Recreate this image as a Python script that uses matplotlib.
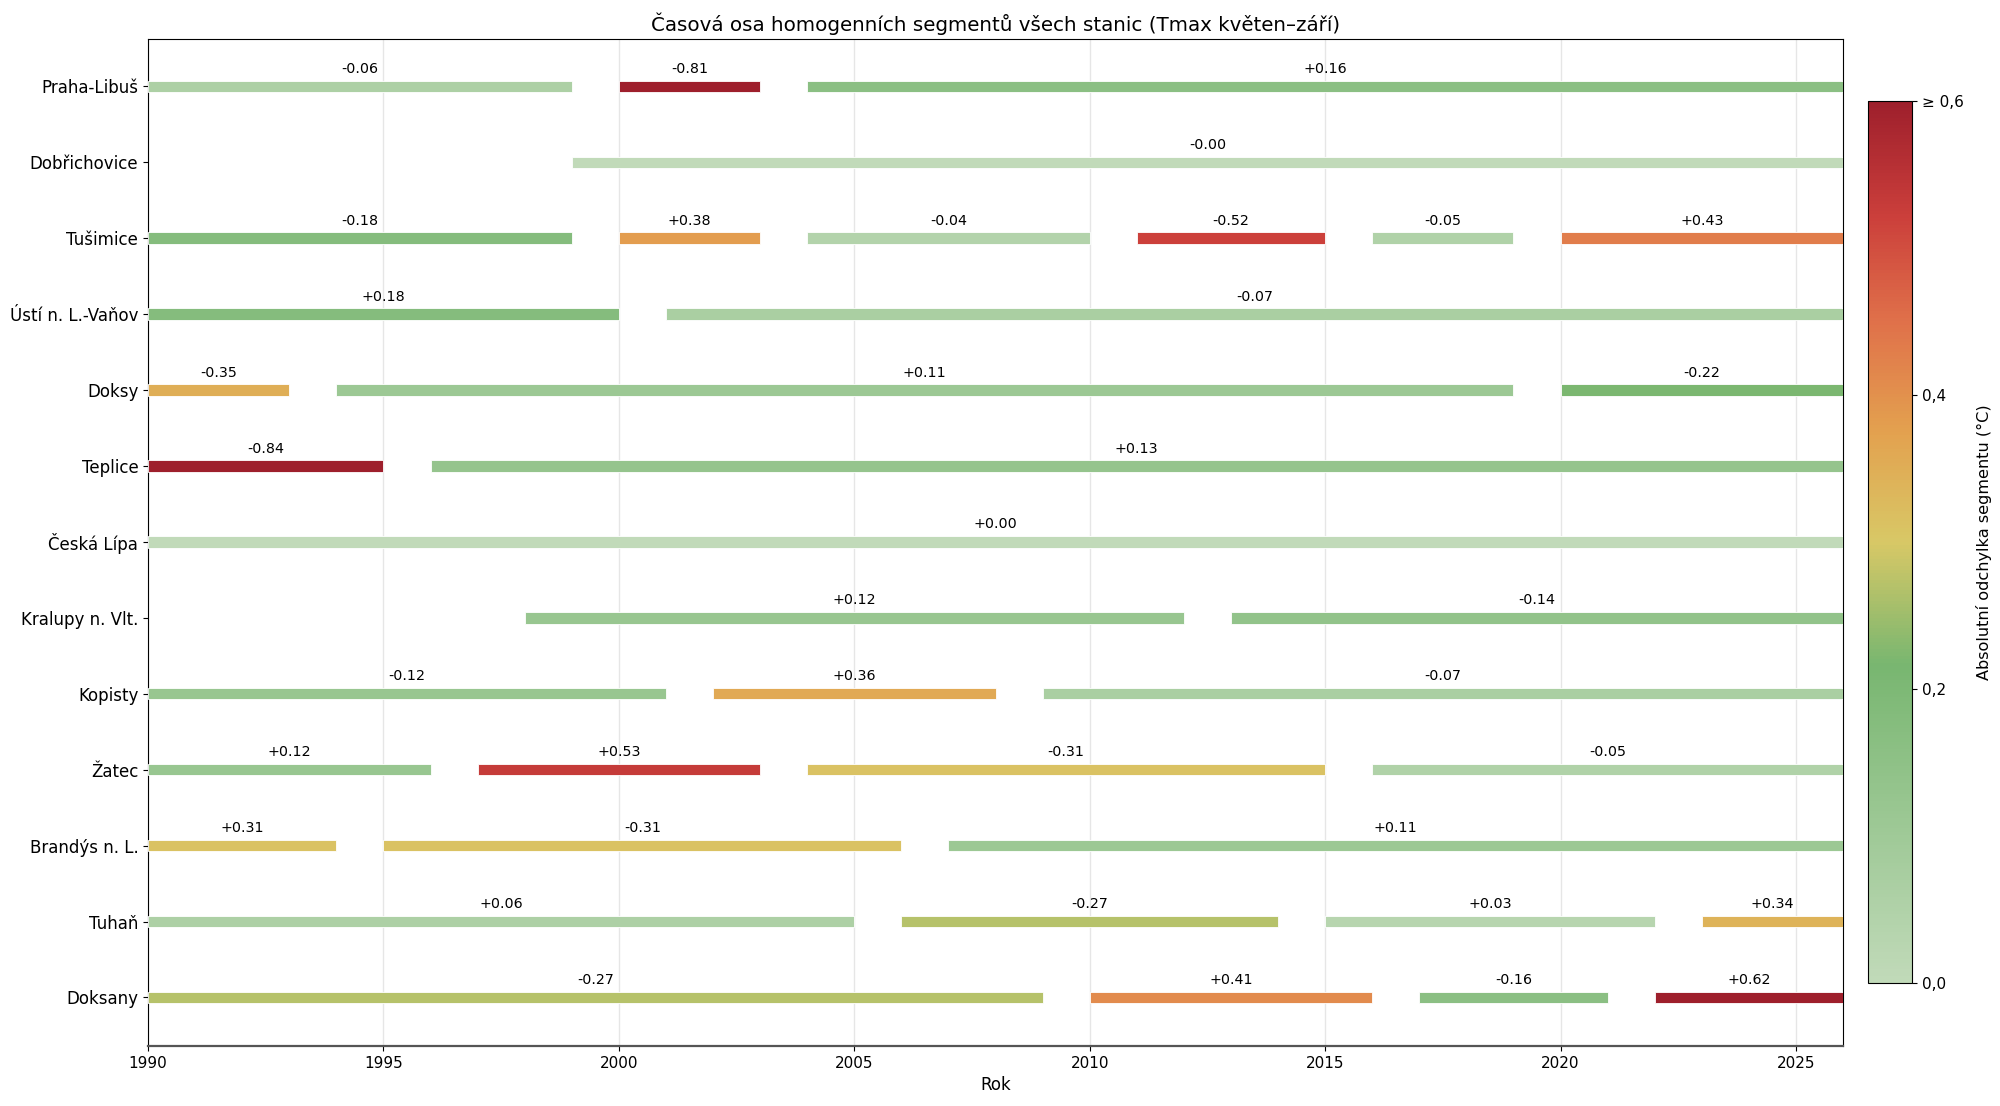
import matplotlib
matplotlib.use("Agg")
import matplotlib.pyplot as plt
import numpy as np
from matplotlib.colors import LinearSegmentedColormap, Normalize
from matplotlib.cm import ScalarMappable

# stations top to bottom
stations = ["Praha-Libuš", "Dobřichovice", "Tušimice", "Ústí n. L.-Vaňov", "Doksy",
            "Teplice", "Česká Lípa", "Kralupy n. Vlt.", "Kopisty", "Žatec",
            "Brandýs n. L.", "Tuhaň", "Doksany"]

# segment start / end years and mean deviation per station
seg_start = [
    [1990, 2000, 2004],
    [1999],
    [1990, 2000, 2004, 2011, 2016, 2020],
    [1990, 2001],
    [1990, 1994, 2020],
    [1990, 1996],
    [1990],
    [1998, 2013],
    [1990, 2002, 2009],
    [1990, 1997, 2004, 2016],
    [1990, 1995, 2007],
    [1990, 2006, 2015, 2023],
    [1990, 2010, 2017, 2022],
]
seg_end = [
    [1999, 2003, 2026],
    [2026],
    [1999, 2003, 2010, 2015, 2019, 2026],
    [2000, 2026],
    [1993, 2019, 2026],
    [1995, 2026],
    [2026],
    [2012, 2026],
    [2001, 2008, 2026],
    [1996, 2003, 2015, 2026],
    [1994, 2006, 2026],
    [2005, 2014, 2022, 2026],
    [2009, 2016, 2021, 2026],
]
seg_dev = [
    [-0.06, -0.81, 0.16],
    [-0.00],
    [-0.18, 0.38, -0.04, -0.52, -0.05, 0.43],
    [0.18, -0.07],
    [-0.35, 0.11, -0.22],
    [-0.84, 0.13],
    [0.00],
    [0.12, -0.14],
    [-0.12, 0.36, -0.07],
    [0.12, 0.53, -0.31, -0.05],
    [0.31, -0.31, 0.11],
    [0.06, -0.27, 0.03, 0.34],
    [-0.27, 0.41, -0.16, 0.62],
]

cb_ticks = [0.0, 0.2, 0.4, 0.6]
cb_labels = ["0,0", "0,2", "0,4", "≥ 0,6"]

cmap = LinearSegmentedColormap.from_list("dev", [
    (0.0, "#c1dab9"),
    (0.36, "#78b670"),
    (0.5, "#d8c866"),
    (0.625, "#e3a14f"),
    (0.75, "#e0714a"),
    (0.87, "#cb3f3b"),
    (1.0, "#9e1f2c"),
])
norm = Normalize(vmin=0.0, vmax=0.6)

fig = plt.figure(figsize=(20, 11.06), dpi=100)
ax = fig.add_axes([0.074, 0.0542, 0.8475, 0.9103])
cax = fig.add_axes([0.934, 0.111, 0.022, 0.798])

for i, name in enumerate(stations):
    for s, e, d in zip(seg_start[i], seg_end[i], seg_dev[i]):
        col = cmap(norm(min(abs(d), 0.6)))
        ax.barh(i, e - s, left=s, height=0.15, color=col,
                edgecolor="white", linewidth=0.6, zorder=3)
        ax.text((s + e) / 2, i - 0.23, f"{d:+.2f}", ha="center", va="center",
                fontsize=10.3, zorder=4)

ax.set_yticks(range(len(stations)))
ax.set_yticklabels(stations, fontsize=12)
ax.set_ylim(len(stations) - 0.36, -0.62)
ax.set_xlim(1990, 2026)
ax.set_xticks(np.arange(1990, 2026, 5))
ax.tick_params(axis="x", labelsize=11)
ax.set_xlabel("Rok", fontsize=12)
ax.set_title("Časová osa homogenních segmentů všech stanic (Tmax květen–září)", fontsize=14.3)
ax.grid(axis="x", color="#e6e6e6", linewidth=1, zorder=0)
ax.set_axisbelow(True)
ax.spines["bottom"].set_color("#555555")
ax.spines["bottom"].set_linewidth(1.6)

sm = ScalarMappable(norm=norm, cmap=cmap)
cb = fig.colorbar(sm, cax=cax)
cb.set_ticks(cb_ticks)
cb.set_ticklabels(cb_labels)
cb.ax.tick_params(labelsize=11)
cb.set_label("Absolutní odchylka segmentu (°C)", fontsize=11.6, labelpad=9)

fig.savefig("out.png", dpi=100)
